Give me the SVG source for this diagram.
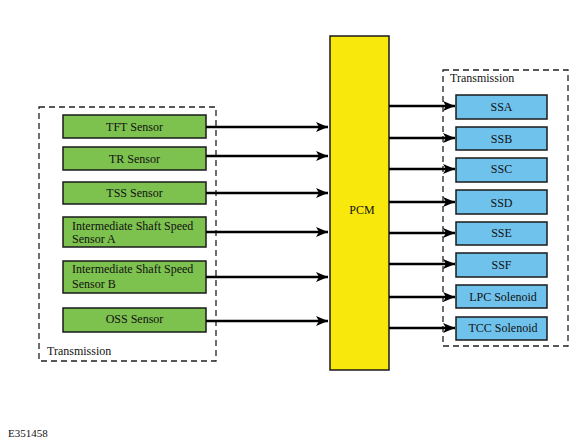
<svg xmlns="http://www.w3.org/2000/svg" width="586" height="442" viewBox="0 0 586 442">
<style>
text{font-family:'Liberation Serif','DejaVu Serif',serif;font-size:12px;fill:#111}
.g{fill:#7dc14f;stroke:#1a1a1a;stroke-width:1.5}
.b{fill:#6fc2ec;stroke:#1a1a1a;stroke-width:1.5}
.dash{fill:none;stroke:#222;stroke-width:1.3;stroke-dasharray:6,4}
.c line{stroke:#000;stroke-width:2.5;marker-end:url(#ah)}
.m{text-anchor:middle}
</style>
<defs>
<marker id="ah" viewBox="0 0 12 10" refX="12" refY="5" markerWidth="12" markerHeight="10" markerUnits="userSpaceOnUse" orient="auto">
<path d="M0,0 L12,5 L0,10 L3,5 Z" fill="#000"/>
</marker>
</defs>
<rect width="586" height="442" fill="#fff"/>
<rect class="dash" x="39" y="107" width="177" height="254"/>
<text x="47" y="355" font-family="Liberation Serif, serif">Transmission</text>
<rect class="dash" x="443" y="70" width="125" height="276"/>
<text x="450" y="82" font-family="Liberation Serif, serif">Transmission</text>
<g id="pcm"><rect x="330" y="36" width="59" height="334" fill="#f8e80c" stroke="#1a1a1a" stroke-width="1.5"/><text class="m" x="362" y="214">PCM</text></g>
<g id="tft"><rect class="g" x="63" y="115" width="143" height="23"/><text class="m" x="134.5" y="131">TFT Sensor</text></g>
<g id="tr"><rect class="g" x="63" y="147" width="143" height="23"/><text class="m" x="134.5" y="163">TR Sensor</text></g>
<g id="tss"><rect class="g" x="63" y="182" width="143" height="22"/><text class="m" x="134.5" y="197">TSS Sensor</text></g>
<g id="issa"><rect class="g" x="63" y="217" width="143" height="30"/><text x="72" y="230">Intermediate Shaft Speed</text><text x="72" y="243">Sensor A</text></g>
<g id="issb"><rect class="g" x="63" y="261" width="143" height="32"/><text x="72" y="273">Intermediate Shaft Speed</text><text x="72" y="288">Sensor B</text></g>
<g id="oss"><rect class="g" x="63" y="308" width="143" height="24"/><text class="m" x="134.5" y="323">OSS Sensor</text></g>
<g id="ssa"><rect class="b" x="456" y="95" width="91" height="24"/><text class="m" x="501.5" y="111">SSA</text></g>
<g id="ssb"><rect class="b" x="456" y="127" width="91" height="23"/><text class="m" x="501.5" y="143">SSB</text></g>
<g id="ssc"><rect class="b" x="456" y="158" width="91" height="24"/><text class="m" x="501.5" y="173">SSC</text></g>
<g id="ssd"><rect class="b" x="456" y="190" width="91" height="24"/><text class="m" x="501.5" y="207">SSD</text></g>
<g id="sse"><rect class="b" x="456" y="222" width="91" height="23"/><text class="m" x="501.5" y="237">SSE</text></g>
<g id="ssf"><rect class="b" x="456" y="253" width="91" height="24"/><text class="m" x="501.5" y="269">SSF</text></g>
<g id="lpc"><rect class="b" x="456" y="285" width="91" height="23"/><text class="m" x="503" y="301">LPC Solenoid</text></g>
<g id="tcc"><rect class="b" x="456" y="317" width="91" height="23"/><text class="m" x="503" y="332">TCC Solenoid</text></g>
<g class="c" id="connectors">
<line x1="206" y1="127" x2="328" y2="127"/>
<line x1="206" y1="156" x2="328" y2="156"/>
<line x1="206" y1="193" x2="328" y2="193"/>
<line x1="206" y1="232" x2="328" y2="232"/>
<line x1="206" y1="277" x2="328" y2="277"/>
<line x1="206" y1="321" x2="328" y2="321"/>
<line x1="389" y1="106" x2="455" y2="106"/>
<line x1="389" y1="138" x2="455" y2="138"/>
<line x1="389" y1="169" x2="455" y2="169"/>
<line x1="389" y1="202" x2="455" y2="202"/>
<line x1="389" y1="233" x2="455" y2="233"/>
<line x1="389" y1="264" x2="455" y2="264"/>
<line x1="389" y1="297" x2="455" y2="297"/>
<line x1="389" y1="328" x2="455" y2="328"/>
</g>
<text x="8" y="437" style="font-size:11px">E351458</text>
</svg>
